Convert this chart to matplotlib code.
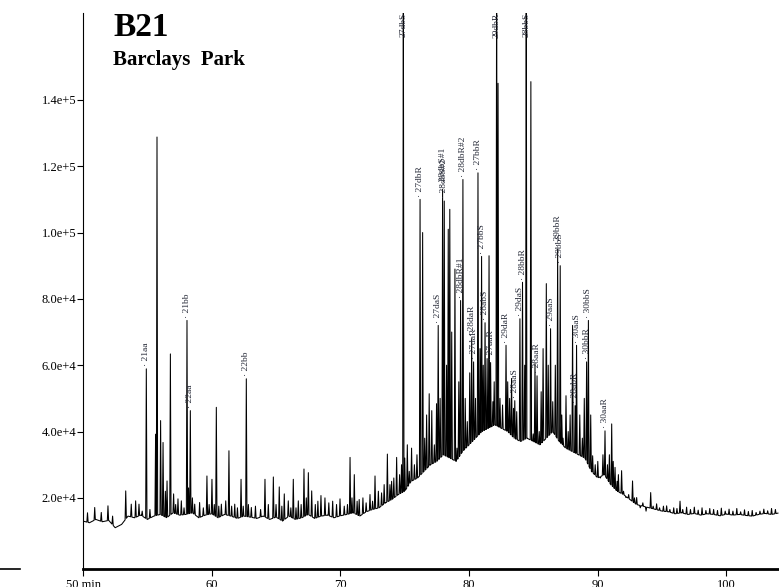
import numpy as np
import matplotlib
matplotlib.use("Agg")
import matplotlib.pyplot as plt
from matplotlib.lines import Line2D

plt.rcParams['font.family'] = 'Liberation Serif'

# ---------------- data (retention time in min, abundance) ----------------
# baseline under the trace
base_t = [50.0, 50.5, 51.0, 51.5, 52.0, 52.5, 53.0, 53.5, 54.0, 54.5, 55.0, 55.5, 56.0, 56.5,
          57.0, 57.5, 58.0, 58.5, 59.0, 59.5, 60.0, 60.5, 61.0, 61.5, 62.0, 62.5, 63.0, 63.5,
          64.0, 64.5, 65.0, 65.5, 66.0, 66.5, 67.0, 67.5, 68.0, 68.5, 69.0, 69.5, 70.0, 70.5,
          71.0, 71.5, 72.0, 72.5, 73.0, 73.5, 74.0, 74.5, 75.0, 75.5, 76.0, 76.5, 77.0, 77.5,
          78.0, 78.5, 79.0, 79.5, 80.0, 80.5, 81.0, 81.5, 82.0, 82.5, 83.0, 83.5, 84.0, 84.5,
          85.0, 85.5, 86.0, 86.5, 87.0, 87.5, 88.0, 88.5, 89.0, 89.5, 90.0, 90.5, 91.0, 91.5,
          92.0, 92.5, 93.0, 93.5, 94.0, 94.5, 95.0, 95.5, 96.0, 96.5, 97.0, 97.5, 98.0, 98.5,
          99.0, 99.5, 100.0, 100.5, 101.0, 101.5, 102.0, 102.5, 103.0, 103.5, 104.0]
base_v = [13.0, 12.5, 13.5, 12.8, 13.2, 11.0, 12.0, 14.5, 14.0, 14.8, 13.5, 14.5, 15.0, 14.0,
          15.5, 14.8, 15.0, 15.5, 14.0, 14.8, 15.2, 14.0, 15.0, 14.5, 13.8, 14.5, 14.2, 13.8,
          14.5, 13.5, 14.2, 13.0, 14.5, 13.5, 14.0, 15.0, 13.8, 14.5, 14.8, 14.0, 14.6, 15.0,
          15.5, 14.5, 15.8, 16.5, 17.0, 18.5, 19.5, 21.0, 22.0, 25.0, 26.0, 28.0, 30.0, 31.0,
          33.0, 32.0, 31.0, 34.0, 36.0, 38.0, 40.0, 41.0, 42.0, 41.0, 40.0, 38.0, 37.0, 38.0,
          37.0, 36.0, 38.0, 40.0, 37.0, 35.0, 34.0, 33.0, 32.0, 28.0, 26.0, 27.0, 24.0, 22.0,
          21.0, 19.5, 18.0, 17.5, 17.0, 16.5, 16.0, 15.8, 15.2, 15.5, 15.0, 15.3, 14.8, 15.2,
          15.0, 14.6, 15.1, 14.8, 15.0, 14.7, 14.5, 15.0, 15.3, 15.0, 15.4]

# peak apexes
peak_t = [50.35, 50.91, 51.42, 51.94, 52.3, 53.32, 53.75, 54.09, 54.35, 54.6, 54.92, 55.2,
          55.64, 55.75, 56.03, 56.22, 56.4, 56.53, 56.79, 57.04, 57.2, 57.38, 57.64, 57.85,
          58.08, 58.2, 58.34, 58.5, 58.68, 59.06, 59.35, 59.63, 59.8, 60.02, 60.2, 60.36,
          60.55, 60.75, 61.09, 61.34, 61.55, 61.79, 62.0, 62.28, 62.45, 62.69, 62.85, 63.08,
          63.4, 63.8, 64.14, 64.4, 64.79, 65.0, 65.25, 65.45, 65.64, 65.95, 66.15, 66.34,
          66.55, 66.73, 66.95, 67.17, 67.35, 67.51, 67.77, 68.05, 68.25, 68.49, 68.8, 69.1,
          69.4, 69.7, 69.97, 70.3, 70.55, 70.75, 70.9, 71.08, 71.3, 71.46, 71.75, 72.0, 72.3,
          72.5, 72.69, 72.95, 73.2, 73.4, 73.65, 73.85, 73.98, 74.15, 74.37, 74.6, 74.75,
          74.89, 75.0, 75.2, 75.35, 75.53, 75.75, 75.95, 76.19, 76.39, 76.55, 76.7, 76.9,
          77.1, 77.3, 77.47, 77.6, 77.75, 77.94, 78.07, 78.25, 78.38, 78.5, 78.65, 78.9,
          79.06, 79.2, 79.34, 79.52, 79.7, 79.86, 80.05, 80.2, 80.35, 80.5, 80.69, 80.85,
          80.97, 81.1, 81.24, 81.4, 81.55, 81.67, 81.85, 81.95, 82.14, 82.25, 82.4, 82.6,
          82.87, 83.0, 83.15, 83.3, 83.45, 83.55, 83.7, 83.95, 84.15, 84.32, 84.44, 84.8,
          84.98, 85.12, 85.28, 85.45, 85.6, 85.75, 86.0, 86.15, 86.33, 86.5, 86.7, 86.88,
          87.08, 87.2, 87.3, 87.53, 87.7, 87.85, 88.04, 88.24, 88.35, 88.6, 88.8, 88.95,
          89.13, 89.27, 89.45, 89.6, 89.8, 90.0, 90.2, 90.4, 90.56, 90.75, 90.9, 91.08,
          91.2, 91.34, 91.5, 91.6, 91.85, 92.0, 92.19, 92.4, 92.7, 92.85, 93.02, 93.3, 93.5,
          93.75, 94.11, 94.3, 94.57, 94.8, 95.1, 95.35, 95.6, 95.9, 96.15, 96.39, 96.6, 96.9,
          97.2, 97.5, 97.8, 98.1, 98.4, 98.7, 99.0, 99.3, 99.6, 99.9, 100.2, 100.5, 100.8,
          101.1, 101.4, 101.7, 102.0, 102.3, 102.6, 102.9, 103.2, 103.5, 103.8]
peak_v = [15.5, 17.1, 15.6, 17.6, 14.5, 22.1, 18.1, 19.1, 18.1, 16.0, 58.9, 16.5,
          39.2, 128.8, 43.3, 36.7, 22.0, 25.1, 63.4, 21.2, 18.0, 19.7, 19.1, 17.0,
          73.5, 23.0, 46.3, 20.0, 18.1, 18.6, 17.0, 26.6, 18.0, 25.6, 18.0, 47.3,
          17.5, 18.1, 19.1, 34.2, 17.5, 18.1, 17.0, 25.6, 17.5, 55.9, 18.0, 17.1,
          17.5, 16.5, 25.6, 18.0, 26.3, 18.0, 23.3, 17.5, 21.2, 19.1, 17.0, 25.6,
          17.0, 19.1, 18.0, 28.7, 20.0, 27.6, 22.1, 18.0, 19.0, 20.7, 20.0, 18.5,
          19.0, 18.0, 19.7, 17.5, 18.0, 32.2, 20.0, 27.0, 19.0, 19.5, 20.0, 18.5, 21.0,
          19.0, 26.6, 22.0, 21.5, 24.0, 33.2, 24.0, 25.0, 26.0, 32.2, 27.0, 30.0,
          185.0, 32.0, 36.0, 28.0, 35.0, 30.0, 33.0, 110.0, 100.0, 38.0, 45.0, 51.4,
          46.3, 36.0, 48.4, 72.0, 50.0, 113.0, 109.5, 60.0, 101.0, 107.0, 70.0, 89.0,
          35.0, 55.0, 79.5, 116.0, 50.0, 43.0, 57.7, 68.0, 61.0, 50.0, 118.0, 65.0,
          92.8, 60.0, 72.8, 62.0, 93.0, 60.8, 49.0, 55.0, 185.0, 145.0, 50.0, 48.0,
          66.0, 55.0, 50.0, 56.0, 47.0, 49.3, 46.0, 74.0, 85.0, 60.0, 185.0, 145.5,
          39.3, 60.5, 56.8, 40.0, 52.0, 65.0, 84.6, 60.0, 71.0, 49.0, 60.0, 95.0,
          90.0, 45.0, 38.0, 50.8, 40.0, 45.0, 72.0, 47.8, 66.0, 45.0, 38.0, 50.0,
          61.0, 73.5, 45.0, 32.7, 30.0, 31.0, 26.0, 33.0, 40.2, 30.0, 33.0, 42.3,
          31.0, 29.2, 25.0, 27.0, 28.2, 22.0, 20.1, 21.0, 25.1, 20.0, 20.1, 17.0, 18.5,
          16.0, 21.6, 17.5, 18.2, 17.0, 17.5, 17.6, 16.5, 17.0, 16.8, 19.0, 16.5, 17.2,
          16.5, 17.2, 16.3, 17.0, 16.2, 16.8, 16.5, 16.2, 16.9, 16.0, 16.6, 16.0, 16.8,
          15.8, 16.4, 15.9, 16.2, 15.6, 16.0, 16.6, 16.1, 16.8, 16.5]

# peak labels (name, retention time of the labelled apex)
label_names = ['21aa', '21bb', '22aa', '22bb', '27dbR', '27daS', '28dbS#1', '28dbS#2',
               '28dbR#1', '28dbR#2', '28daR', '27daR', '27bbR', '27bbS', '28abS', '27aaR',
               '29daR', '28aaS', '29daS', '28bbR', '28aaR', '29aaS', '29bbR', '29bbS',
               '28abR', '30aaS', '30bbR', '30bbS', '30aaR']
label_t = [54.92, 58.08, 58.34, 62.69, 76.19, 77.6, 77.94, 78.07,
           79.34, 79.52, 80.2, 80.35, 80.69, 80.97, 81.24, 81.67,
           82.87, 83.55, 83.95, 84.15, 85.28, 86.33, 86.88, 87.08,
           88.24, 88.35, 89.13, 89.27, 90.56]
# labels written at the top for peaks that run off the scale
top_names = ['27dbS', '29dbR', '28bbS']
top_t = [74.89, 82.14, 84.44]

y_ticks = [2e4, 4e4, 6e4, 8e4, 1e5, 1.2e5, 1.4e5]
y_labels = ['2.0e+4', '4.0e+4', '6.0e+4', '8.0e+4', '1.0e+5', '1.2e+5', '1.4e+5']
x_ticks = [50, 60, 70, 80, 90, 100]
x_labels = ['50 min', '60', '70', '80', '90', '100']

# ---------------- build the trace ----------------
FOOT = 0.05
bt = np.array(base_t)
bv = np.array(base_v) * 1000
pt = np.array(peak_t)
pv = np.array(peak_v) * 1000
keep = np.array([np.all(np.abs(pt - t) > FOOT) for t in bt])
pts = list(zip(bt[keep], bv[keep]))
for t, v in zip(pt, pv):
    pts.append((t - FOOT, np.interp(t - FOOT, bt, bv)))
    pts.append((t, v))
    pts.append((t + FOOT, np.interp(t + FOOT, bt, bv)))
pts.sort(key=lambda p: p[0])
tt = [p[0] for p in pts]
vv = [p[1] for p in pts]
apex = dict(zip(peak_t, pv))

# ---------------- plot ----------------
fig = plt.figure(figsize=(7.79, 5.87), dpi=100)
ax = fig.add_axes([83 / 779, 18 / 587, 696 / 779, 556 / 587])
ax.plot(tt, vv, color='black', lw=0.75)

ymin, ymax = -1450, 166200
ax.set_xlim(50, 104.08)
ax.set_ylim(ymin, ymax)
ax.spines['top'].set_visible(False)
ax.spines['right'].set_visible(False)
ax.spines['left'].set_linewidth(0.8)
ax.spines['bottom'].set_linewidth(2.0)

ax.set_yticks(y_ticks, y_labels, fontsize=9)
ax.set_xticks(x_ticks, x_labels, fontsize=9)
ax.tick_params(axis='y', direction='out', length=4, width=0.8, pad=1)
ax.tick_params(axis='x', direction='out', length=5, width=0.8, pad=2)

lab_color = '#262a38'
for name, t in zip(label_names, label_t):
    ax.annotate('· ' + name, (t, apex[t]), xytext=(0, 2), textcoords='offset points',
                rotation=90, ha='center', va='bottom', fontsize=6.8, color=lab_color)
for name, t in zip(top_names, top_t):
    ax.text(t, ymax, name, rotation=90, ha='center', va='top', fontsize=6.8,
            color=lab_color, clip_on=False)

fig.text(113 / 779, 1 - 36 / 587, 'B21', fontsize=24, fontweight='bold', va='baseline')
fig.text(113 / 779, 1 - 65 / 587, 'Barclays  Park', fontsize=15, fontweight='bold',
         va='baseline')
fig.add_artist(Line2D([0, 20 / 779], [18 / 587, 18 / 587], color='black', lw=1.2,
                      transform=fig.transFigure))

fig.savefig('out.png', dpi=100)
